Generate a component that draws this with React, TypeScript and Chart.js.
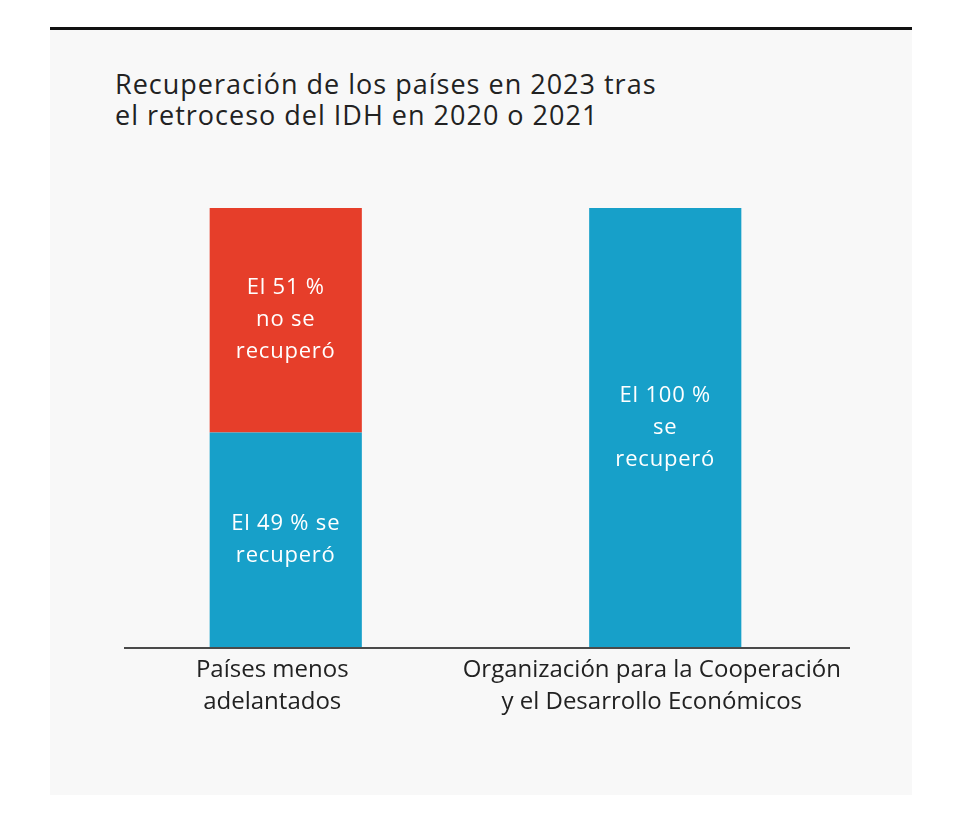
import React, { useEffect, useRef } from "react";
import { Chart, registerables } from "chart.js";

Chart.register(...registerables);

const titleLines = ["Recuperación de los países en 2023 tras", "el retroceso del IDH en 2020 o 2021"];
const categories = [
  ["Países menos", "adelantados"],
  ["Organización para la Cooperación", "y el Desarrollo Económicos"],
];
const recovered = [49, 100];
const notRecovered = [51, 0];
const recoveredLabels = [["El 49 % se", "recuperó"], ["El 100 %", "se", "recuperó"]];
const notRecoveredLabels = [["El 51 %", "no se", "recuperó"], []];

const BLUE = "#17a0c9";
const RED = "#e63e2a";
const FONT = "'Open Sans', sans-serif";

const baselinePlugin = {
  id: "baseline",
  afterDatasetsDraw(chart: any) {
    const { ctx, chartArea } = chart;
    ctx.save();
    ctx.strokeStyle = "#4a4a4a";
    ctx.lineWidth = 2;
    ctx.beginPath();
    ctx.moveTo(124, chartArea.bottom);
    ctx.lineTo(850, chartArea.bottom);
    ctx.stroke();
    ctx.restore();
  },
};

const barLabelPlugin = {
  id: "barLabels",
  afterDatasetsDraw(chart: any) {
    const { ctx } = chart;
    const labelSets = [recoveredLabels, notRecoveredLabels];
    ctx.save();
    ctx.fillStyle = "#ffffff";
    ctx.font = `22px ${FONT}`;
    (ctx as any).letterSpacing = "0.8px";
    ctx.textAlign = "center";
    ctx.textBaseline = "middle";
    const lh = 32;
    chart.data.datasets.forEach((_: any, di: number) => {
      const meta = chart.getDatasetMeta(di);
      meta.data.forEach((el: any, i: number) => {
        const lines = labelSets[di][i];
        if (!lines || !lines.length) return;
        const cy = (el.y + el.base) / 2;
        const start = cy - ((lines.length - 1) * lh) / 2;
        lines.forEach((t: string, k: number) => ctx.fillText(t, el.x, start + k * lh));
      });
    });
    ctx.restore();
  },
};

export default function App() {
  const ref = useRef<HTMLCanvasElement>(null);
  useEffect(() => {
    if (!ref.current) return;
    const chart = new Chart(ref.current, {
      type: "bar",
      data: {
        labels: categories as any,
        datasets: [
          { label: "Se recuperó", data: recovered, backgroundColor: BLUE, borderWidth: 0 },
          { label: "No se recuperó", data: notRecovered, backgroundColor: RED, borderWidth: 0 },
        ],
      },
      options: {
        animation: false,
        responsive: false,
        devicePixelRatio: 1,
        layout: { padding: { left: 96, right: 105, top: 208, bottom: 0 } },
        datasets: { bar: { barPercentage: 0.401, categoryPercentage: 1 } },
        plugins: { legend: { display: false }, tooltip: { enabled: false }, title: { display: false } },
        scales: {
          x: {
            stacked: true,
            grid: { display: false },
            border: { display: false },
            ticks: {
              color: "#222222",
              font: { family: FONT, size: 24, lineHeight: "32px" as any },
              padding: -2,
              labelOffset: -13.5,
              maxRotation: 0,
              autoSkip: false,
            },
            afterFit(scale: any) {
              scale.height = 167;
            },
          },
          y: { stacked: true, display: false, min: 0, max: 100 },
        },
      },
      plugins: [baselinePlugin, barLabelPlugin],
    });
    return () => chart.destroy();
  }, []);

  return (
    <div style={{ position: "absolute", left: 0, top: 0, width: 960, height: 815, background: "#ffffff", overflow: "hidden" }}>
      <div style={{ position: "absolute", left: 50, top: 27, width: 862, height: 3, background: "#111111" }} />
      <div style={{ position: "absolute", left: 50, top: 30, width: 862, height: 765, background: "#f8f8f8" }} />
      <div
        style={{
          position: "absolute",
          left: 115,
          top: 68,
          fontFamily: FONT,
          fontSize: 27,
          letterSpacing: "1px",
          lineHeight: "31px",
          color: "#222222",
          whiteSpace: "nowrap",
        }}
      >
        {titleLines.map((t, i) => (
          <div key={i}>{t}</div>
        ))}
      </div>
      <canvas ref={ref} width={960} height={815} style={{ position: "absolute", left: 0, top: 0 }} />
    </div>
  );
}
